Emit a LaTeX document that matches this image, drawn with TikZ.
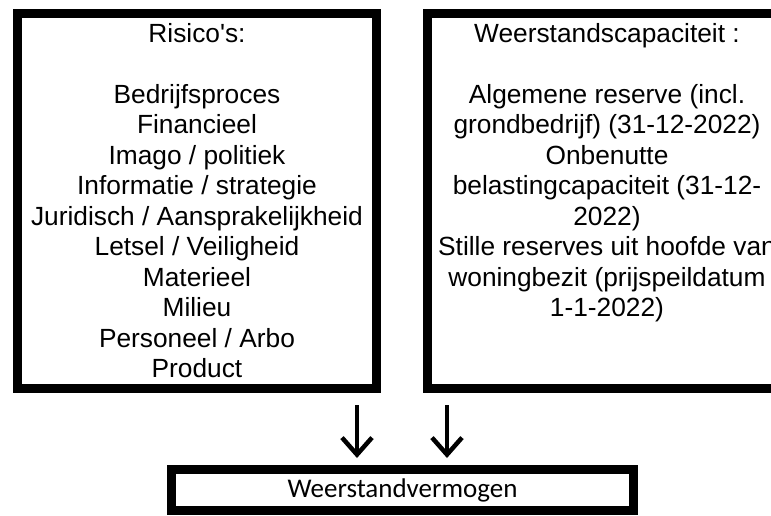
\documentclass[tikz,border=0pt]{standalone}
\usepackage{fontspec}
\newfontfamily\arial{Liberation Sans}
\newfontfamily\carlito{Carlito}
\usetikzlibrary{positioning,arrows.meta}

\tikzset{
  kader/.style={draw=black,line width=9pt,minimum width=359pt,minimum height=375pt,inner sep=0pt},
  lijst/.style={align=center,inner sep=0pt,anchor=north,font=\arial\fontsize{26.3}{30.5}\selectfont},
  pijl/.style={-{Straight Barb[length=17pt,width=30pt]},line width=4.5pt}
}

\begin{document}
\begin{tikzpicture}[x=1pt,y=-1pt]
\useasboundingbox (0,0) rectangle (771,515);
\clip (0,0) rectangle (771,515);
% Boxes
\node[kader] (risico) at (197,201) {};
\node[kader] (capaciteit) at (607,201) {};
\node[kader,minimum width=462pt,minimum height=41pt,font=\carlito\fontsize{27}{30}\selectfont] (vermogen) at (402.5,490) {Weerstandvermogen};
% Box texts
\node[lijst] (risicotekst) at (risico.north |- 0,23) {Risico's:\\[30.5pt]
  Bedrijfsproces\\ Financieel\\ Imago / politiek\\ Informatie / strategie\\
  Juridisch / Aansprakelijkheid\\ Letsel / Veiligheid\\ Materieel\\ Milieu\\
  Personeel / Arbo\\ Product};
\node[lijst] (capaciteittekst) at (capaciteit.north |- 0,23) {Weerstandscapaciteit :\\[30.5pt]
  Algemene reserve (incl.\\ grondbedrijf) (31-12-2022)\\ Onbenutte\\
  belastingcapaciteit (31-12-\\ 2022)\\ Stille reserves uit hoofde van\\
  woningbezit (prijspeildatum\\ 1-1-2022)};
% Arrows
\foreach \x/\n in {357/1,447/2} {
  \coordinate (top\n) at (\x,405);
  \coordinate (tip\n) at (\x,458);
  \draw[pijl] (top\n) -- (tip\n);
}
\end{tikzpicture}
\end{document}
